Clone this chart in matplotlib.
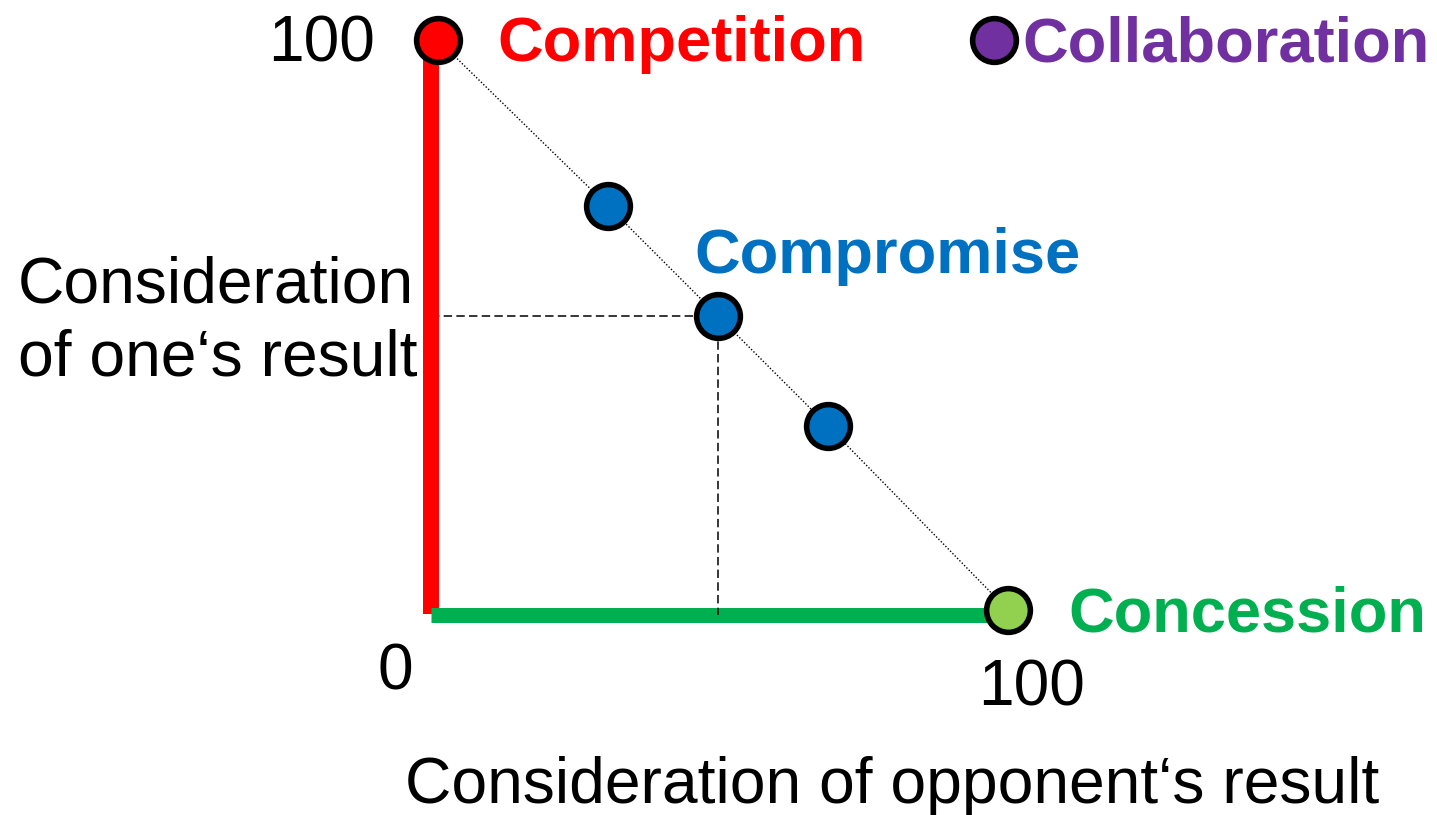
import matplotlib.pyplot as plt

# strategy points (x = consideration of opponent's result, y = one's own result)
point_names = ["Competition", "Compromise", "Compromise", "Compromise", "Concession", "Collaboration"]
point_x = [0, 29.8, 49.1, 68.5, 100, 97.5]
point_y = [100, 70.9, 51.6, 32.2, 0, 100]
point_fill = ["#FF0000", "#0070C0", "#0070C0", "#0070C0", "#92D050", "#7030A0"]

# thick axis lines
comp_line_x = [-1.2, -1.2]
comp_line_y = [-0.7, 100]
conc_line_x = [-1.2, 100]
conc_line_y = [-0.8, -0.8]

W, H = 1437, 815
x0_px, y0_px, scale = 438, 610, 5.7

fig = plt.figure(figsize=(W / 100, H / 100), dpi=100)
ax = fig.add_axes([0, 0, 1, 1])
ax.set_xlim(-x0_px / scale, (W - x0_px) / scale)
ax.set_ylim((y0_px - H) / scale, y0_px / scale)
ax.axis("off")

ax.plot(comp_line_x, comp_line_y, color="#FF0000", lw=11.5, solid_capstyle="butt", zorder=2)
ax.plot(conc_line_x, conc_line_y, color="#00B050", lw=10.8, solid_capstyle="butt", zorder=2)

# dotted diagonal through the competition/compromise/concession points
diag = [0, 1, 2, 3, 4]
ax.plot([point_x[i] for i in diag], [point_y[i] for i in diag],
        color="black", lw=1.0, dashes=(1, 1.4), zorder=1)

# dashed guides to the middle compromise point
mx, my = point_x[2], point_y[2]
ax.plot([comp_line_x[0], mx], [my, my], color="black", lw=1.1, dashes=(5.5, 2.8), zorder=1)
ax.plot([mx, mx], [my, conc_line_y[0]], color="black", lw=1.1, dashes=(5.5, 2.8), zorder=3)

for x, y, c in zip(point_x, point_y, point_fill):
    ax.plot(x, y, "o", ms=31.5, mfc=c, mec="black", mew=4, zorder=5)

font = "Liberation Sans"


def label(px, py, s, color="black", bold=False, ha="left", size=46.2):
    fig.text(px / W, 1 - py / H, s, color=color, ha=ha, va="baseline",
             fontsize=size, family=font, fontweight="bold" if bold else "normal")


label(375, 61, "100", ha="right")
label(497, 61, "Competition", color="#FF0000", bold=True, size=45.5)
label(1022, 61, "Collaboration", color="#7030A0", bold=True, size=45.5)
label(694, 273, "Compromise", color="#0070C0", bold=True, size=45.5)
label(1068, 632, "Concession", color="#00B050", bold=True, size=45.5)
label(18, 302, "Consideration")
label(18, 376, "of one\u2018s result")
label(378, 690, "0")
label(978, 705, "100")
label(405, 803, "Consideration of opponent\u2018s result")

fig.savefig("out.png", dpi=100)
